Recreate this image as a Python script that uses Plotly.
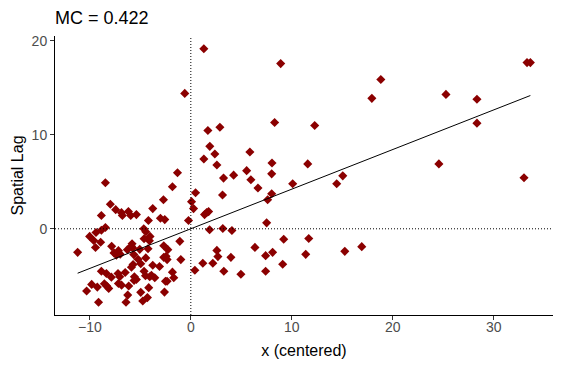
import plotly.graph_objects as go
import numpy as np

MC = 0.422

x_left = [-1.32, -8.46, -1.82, -7.97, -2.71, -3.77, -7.44, -6.18, -6.87, -6.78,
          -5.95, -5.39, -8.86, -3.01, -2.58, -4.20, -0.23, -8.46, -8.86, -9.39,
          -4.66, -4.46, -10.02, -9.62, -4.04, -4.63, -4.10, -8.93, -1.09, -11.21,
          -9.44, -7.84, -5.82, -5.88, -5.75, -6.28, -5.06, -4.24, -2.68, -2.28,
          -7.17, -7.61, -7.37, -6.99, -5.65, -4.46, -5.23, -2.68, -2.45, -2.35,
          -0.99, -5.72, -5.88, -4.96, -3.77, -3.10, -6.50, -5.59, -5.39, -5.62,
          -4.63, -4.49, -3.90, -3.57, -4.07, -1.82, -1.69, -2.51, -2.35, -6.15,
          -4.17, -6.25, -4.96, -2.61, -4.30, -4.76, -6.42, -8.86, -8.36, -7.87,
          -7.21, -7.04, -9.82, -9.26, -8.56, -8.33, -8.13, -7.17, -6.86, -10.32,
          -9.14, -0.60]
y_left = [5.96, 4.90, 4.48, 2.61, 3.10, 2.15, 2.04, 1.83, 1.72, 1.41,
          1.41, 1.51, 1.41, 1.13, 0.98, 0.88, 0.88, 0.14, -0.16, -0.39,
          0.00, -0.32, -0.81, -1.24, -0.81, -1.06, -1.27, -1.43, -1.34, -2.51,
          -1.99, -1.87, -1.59, -1.87, -2.04, -2.22, -2.19, -2.12, -1.80, -2.22,
          -2.33, -2.57, -2.80, -2.70, -2.75, -3.10, -3.25, -3.04, -2.93, -3.28,
          -3.28, -3.81, -4.09, -3.73, -3.88, -4.02, -4.66, -5.11, -5.40, -5.50,
          -4.52, -5.00, -4.94, -5.22, -5.11, -4.62, -5.22, -5.58, -5.58, -6.10,
          -6.27, -7.06, -6.77, -6.74, -7.33, -7.69, -7.83, -4.52, -4.76, -5.15,
          -4.76, -5.11, -5.92, -6.21, -5.85, -6.10, -6.35, -5.82, -6.00, -6.63,
          -7.83, 14.42]

x_right = [1.29, 8.90, 8.30, 12.27, 1.69, 2.88, 1.88, 2.38, 5.85, 1.29,
           2.58, 8.04, 11.58, 5.53, 8.01, 4.24, 3.24, 5.95, 6.65, 10.09,
           0.47, 3.14, 0.07, 8.01, 7.61, 0.27, 1.76, 1.36, 1.56, 7.51,
           1.86, 3.17, 4.07, 9.20, 11.68, 2.58, 2.68, 3.97, 6.35, 7.41,
           8.10, 11.38, 15.25, 16.93, 0.40, 1.19, 2.18, 3.27, 4.96, 7.41,
           9.10, 33.30, 33.63, 18.82, 17.93, 25.27, 28.34, 28.34, 24.57, 33.00,
           15.05, 14.45]
y_right = [19.18, 17.59, 11.32, 11.00, 10.47, 10.82, 8.78, 7.97, 8.18, 7.44,
           6.80, 7.01, 6.91, 6.19, 5.85, 5.71, 5.40, 5.22, 4.34, 4.79,
           3.84, 3.60, 2.89, 3.73, 3.10, 2.15, 1.83, 1.51, 1.72, 0.63,
           -0.11, 0.03, -0.18, -1.11, -1.03, -2.30, -2.96, -3.04, -1.98, -2.86,
           -2.51, -2.72, -2.40, -1.90, -4.41, -3.67, -3.67, -4.52, -4.84, -4.52,
           -3.78, 17.70, 17.70, 15.90, 13.89, 14.31, 13.79, 11.25, 6.91, 5.43,
           5.64, 4.79]

x_vals = np.array(x_left + x_right)
y_vals = np.array(y_left + y_right)

x_ticks = [-10, 0, 10, 20, 30]
y_ticks = [0, 10, 20]

x_line = np.array([x_vals.min(), x_vals.max()])
y_line = MC * x_line

font = "Liberation Sans, Arial, sans-serif"

W, H = 554, 363  # page body has an 8px margin

fig = go.Figure()
fig.add_trace(go.Scatter(
    x=x_vals, y=y_vals, mode="markers",
    marker=dict(symbol="diamond", size=7, color="#8B0000", line=dict(width=0)),
    showlegend=False, hoverinfo="skip"))
fig.add_trace(go.Scatter(
    x=x_line, y=y_line, mode="lines",
    line=dict(color="black", width=1), showlegend=False, hoverinfo="skip"))

fig.add_hline(y=0, line=dict(color="black", width=1, dash="1px,2px"))
fig.add_vline(x=0, line=dict(color="black", width=1, dash="1px,2px"))

xr = [x_vals.min() - 0.05 * (x_vals.max() - x_vals.min()),
      x_vals.max() + 0.05 * (x_vals.max() - x_vals.min())]
yr = [y_vals.min() - 0.05 * (y_vals.max() - y_vals.min()),
      y_vals.max() + 0.05 * (y_vals.max() - y_vals.min())]

fig.update_layout(
    width=W, height=H,
    margin=dict(l=47, r=9, t=28, b=56),
    paper_bgcolor="white", plot_bgcolor="white",
    font=dict(family=font, color="black"),
    title=dict(text="MC = 0.422", x=47/W, xref="container", xanchor="left",
               y=1 - 9.5/H, yref="container", yanchor="middle",
               font=dict(size=18, color="black", family=font)),
    xaxis=dict(range=xr, tickvals=x_ticks, ticks="outside", ticklen=4,
               tickcolor="#333333", showline=True, linecolor="black", linewidth=1,
               showgrid=False, zeroline=False, automargin=False,
               ticklabelstandoff=-5,
               tickfont=dict(size=14, color="#4D4D4D"),
               title=dict(text="x (centered)", font=dict(size=16, color="black"), standoff=11)),
    yaxis=dict(range=yr, tickvals=y_ticks, ticks="outside", ticklen=4,
               tickcolor="#333333", showline=True, linecolor="black", linewidth=1,
               showgrid=False, zeroline=False, automargin=False,
               tickfont=dict(size=14, color="#4D4D4D"),
               title=dict(text="Spatial Lag", font=dict(size=16, color="black"), standoff=4)),
)

fig.write_html("out.html")
